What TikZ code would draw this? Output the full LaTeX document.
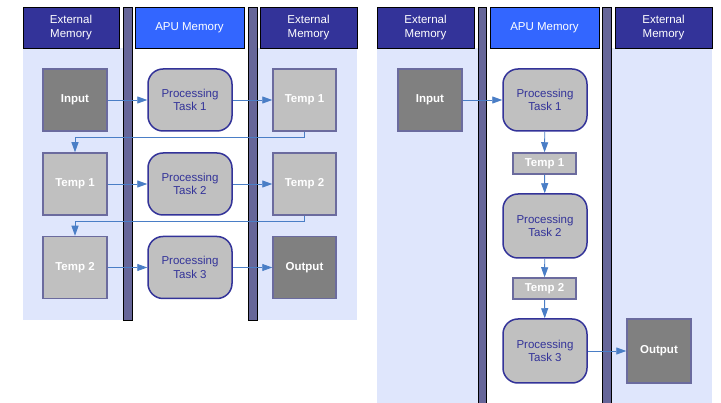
\documentclass[tikz,border=0pt]{standalone}
\usepackage{fontspec}
\setmainfont{Liberation Sans}
\usetikzlibrary{arrows.meta}
\definecolor{navy}{HTML}{333399}
\definecolor{apublue}{HTML}{3366FF}
\definecolor{barcol}{HTML}{666699}
\definecolor{lane}{HTML}{DFE6FC}
\definecolor{darkbox}{HTML}{808080}
\definecolor{lightbox}{HTML}{C0C0C0}
\definecolor{boxedge}{HTML}{6B6B9E}
\definecolor{flow}{HTML}{4A7EC6}
\tikzset{
  header/.style={draw=black, line width=0.6pt, text=white, align=center,
    font=\fontsize{11.5}{13.5}\selectfont, inner sep=0pt},
  bar/.style={fill=barcol, draw=black, line width=0.8pt},
  lanebg/.style={fill=lane, draw=none},
  membox/.style={draw=boxedge, line width=1.5pt, text=white,
    font=\fontsize{11.5}{13.5}\selectfont\bfseries, inner sep=0pt},
  indata/.style={membox, fill=darkbox},
  tmpdata/.style={membox, fill=lightbox},
  task/.style={draw=navy, line width=1.5pt, fill=lightbox, rounded corners=15pt,
    text=navy, align=center, font=\fontsize{11.5}{13.5}\selectfont,
    minimum width=84pt, inner sep=0pt},
  flowline/.style={draw=flow, line width=0.9pt, -{Triangle[length=10pt,width=7pt]}},
}
\begin{document}
\begin{tikzpicture}[x=1pt,y=-1pt]
\useasboundingbox (0,0) rectangle (721,403);
\fill[white] (0,0) rectangle (721,403);

% ---------- left: staged through external memory ----------
\fill[lanebg] (23,48) rectangle (123,320);
\fill[lanebg] (257,48) rectangle (357,320);
\node[header, fill=navy, minimum width=96pt, minimum height=41pt] (lh1) at (71,27.5) {External\\Memory};
\node[header, fill=apublue, minimum width=109pt, minimum height=41pt] (lh2) at (189.5,27.5) {APU Memory};
\node[header, fill=navy, minimum width=97pt, minimum height=41pt] (lh3) at (308.5,27.5) {External\\Memory};
\draw[bar] (123,7) rectangle (132,320);
\draw[bar] (248,7) rectangle (257,320);

\node[indata, minimum width=64pt, minimum height=62pt] (lin) at (75,100) {Input};
\node[task, minimum height=62pt] (lp1) at (190,100) {Processing\\Task 1};
\node[tmpdata, minimum width=63pt, minimum height=62pt] (lt1r) at (304.5,100) {Temp 1};

\node[tmpdata, minimum width=64pt, minimum height=62pt] (lt1l) at (75,184) {Temp 1};
\node[task, minimum height=62pt] (lp2) at (190,184) {Processing\\Task 2};
\node[tmpdata, minimum width=63pt, minimum height=62pt] (lt2r) at (304.5,184) {Temp 2};

\node[tmpdata, minimum width=64pt, minimum height=62pt] (lt2l) at (75,267.5) {Temp 2};
\node[task, minimum height=62pt] (lp3) at (190,267.5) {Processing\\Task 3};
\node[indata, minimum width=63pt, minimum height=62pt] (lout) at (304.5,267.5) {Output};

\draw[flowline] (lin) -- (lp1);
\draw[flowline] (lp1) -- (lt1r);
\draw[flowline] (lt1r.south) -- ++(0,6) -| (lt1l.north);
\draw[flowline] (lt1l) -- (lp2);
\draw[flowline] (lp2) -- (lt2r);
\draw[flowline] (lt2r.south) -- ++(0,5.5) -| (lt2l.north);
\draw[flowline] (lt2l) -- (lp3);
\draw[flowline] (lp3) -- (lout);

% ---------- right: temporaries kept in APU memory ----------
\fill[lanebg] (377,48) rectangle (478,403);
\fill[lanebg] (611,48) rectangle (712,403);
\node[header, fill=navy, minimum width=97pt, minimum height=41pt] (rh1) at (425.5,27.5) {External\\Memory};
\node[header, fill=apublue, minimum width=109pt, minimum height=41pt] (rh2) at (544.5,27.5) {APU Memory};
\node[header, fill=navy, minimum width=97pt, minimum height=41pt] (rh3) at (663.5,27.5) {External\\Memory};
\draw[bar] (478,7) rectangle (486,404);
\draw[bar] (602,7) rectangle (611,404);

\node[indata, minimum width=64pt, minimum height=62pt] (rin) at (430,100) {Input};
\node[task, minimum height=62pt] (rp1) at (545,100) {Processing\\Task 1};
\node[tmpdata, minimum width=63pt, minimum height=21pt] (rt1) at (544.5,163.5) {Temp 1};
\node[task, minimum height=64pt] (rp2) at (545,226) {Processing\\Task 2};
\node[tmpdata, minimum width=63pt, minimum height=21pt] (rt2) at (544.5,288.5) {Temp 2};
\node[task, minimum height=64pt] (rp3) at (545,351) {Processing\\Task 3};
\node[indata, minimum width=64pt, minimum height=64pt] (rout) at (659,351) {Output};

\draw[flowline] (rin) -- (rp1);
\draw[flowline] (rp1) -- (rt1);
\draw[flowline] (rt1) -- (rp2);
\draw[flowline] (rp2) -- (rt2);
\draw[flowline] (rt2) -- (rp3);
\draw[flowline] (rp3) -- (rout);
\end{tikzpicture}
\end{document}
